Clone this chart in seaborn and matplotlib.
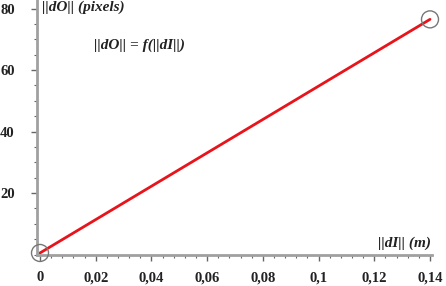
import matplotlib
matplotlib.use("Agg")
import matplotlib.pyplot as plt
import seaborn as sns
import pandas as pd
from matplotlib.ticker import MultipleLocator, FixedLocator, FixedFormatter

sns.set_style("ticks")
plt.rcParams['font.family'] = ['Liberation Serif', 'DejaVu Serif']

# data
dI = [0.0, 0.14]
dO = [0.5, 76.5]
x_ticks = [0, 0.02, 0.04, 0.06, 0.08, 0.1, 0.12, 0.14]
x_labels = ["0", "0,02", "0,04", "0,06", "0,08", "0,1", "0,12", "0,14"]
y_ticks = [20, 40, 60, 80]
y_labels = ["20", "40", "60", "80"]

df = pd.DataFrame({"dI": dI, "dO": dO})

fig = plt.figure(figsize=(4.46, 2.86), dpi=100)
ax = fig.add_axes([37/446, (286-254.5)/286, (432-37)/446, 254.5/286])

sns.lineplot(data=df, x="dI", y="dO", ax=ax, color="#e8141b", linewidth=2.0)
sns.scatterplot(data=df, x="dI", y="dO", ax=ax, s=150, facecolor="none",
                edgecolor="#777777", linewidth=1.0, zorder=5, clip_on=False)

px = 0.14 / 390
ax.set_xlim(-3 * px, 0.14 + 2 * px)
ax.set_ylim(0, 82.8)

ax.xaxis.set_major_locator(FixedLocator(x_ticks))
ax.xaxis.set_major_formatter(FixedFormatter(x_labels))
ax.xaxis.set_minor_locator(MultipleLocator(0.004))
ax.yaxis.set_major_locator(FixedLocator(y_ticks))
ax.yaxis.set_major_formatter(FixedFormatter(y_labels))
ax.yaxis.set_minor_locator(MultipleLocator(5))

for lab in ax.get_xticklabels() + ax.get_yticklabels():
    lab.set_fontweight("bold")
    lab.set_fontsize(10.5)
    lab.set_color("#222222")

ax.tick_params(axis="both", which="major", length=4, width=1, color="#666666", pad=6)
ax.tick_params(axis="both", which="minor", length=2.5, width=0.8, color="#666666")
ax.tick_params(axis="y", pad=12)
ax.tick_params(axis="x", pad=8)

for s in ["top", "right"]:
    ax.spines[s].set_visible(False)
for s in ["left", "bottom"]:
    ax.spines[s].set_color("#a0a0a0")
    ax.spines[s].set_linewidth(2)

ax.set_xlabel("")
ax.set_ylabel("")

fig.text(42/446, 0.999, "||dO|| (pixels)", fontsize=11, fontweight="bold",
         fontstyle="italic", ha="left", va="top", color="#222222")
ax.text(0.1405, 1.6, "||dI|| (m)", fontsize=11, fontweight="bold",
        fontstyle="italic", ha="right", va="bottom", color="#222222")
ax.text(0.0195, 68.2, "||dO|| = f(||dI||)", fontsize=11, fontweight="bold",
        fontstyle="italic", ha="left", va="center", color="#222222")

fig.savefig("out.png", dpi=100)
